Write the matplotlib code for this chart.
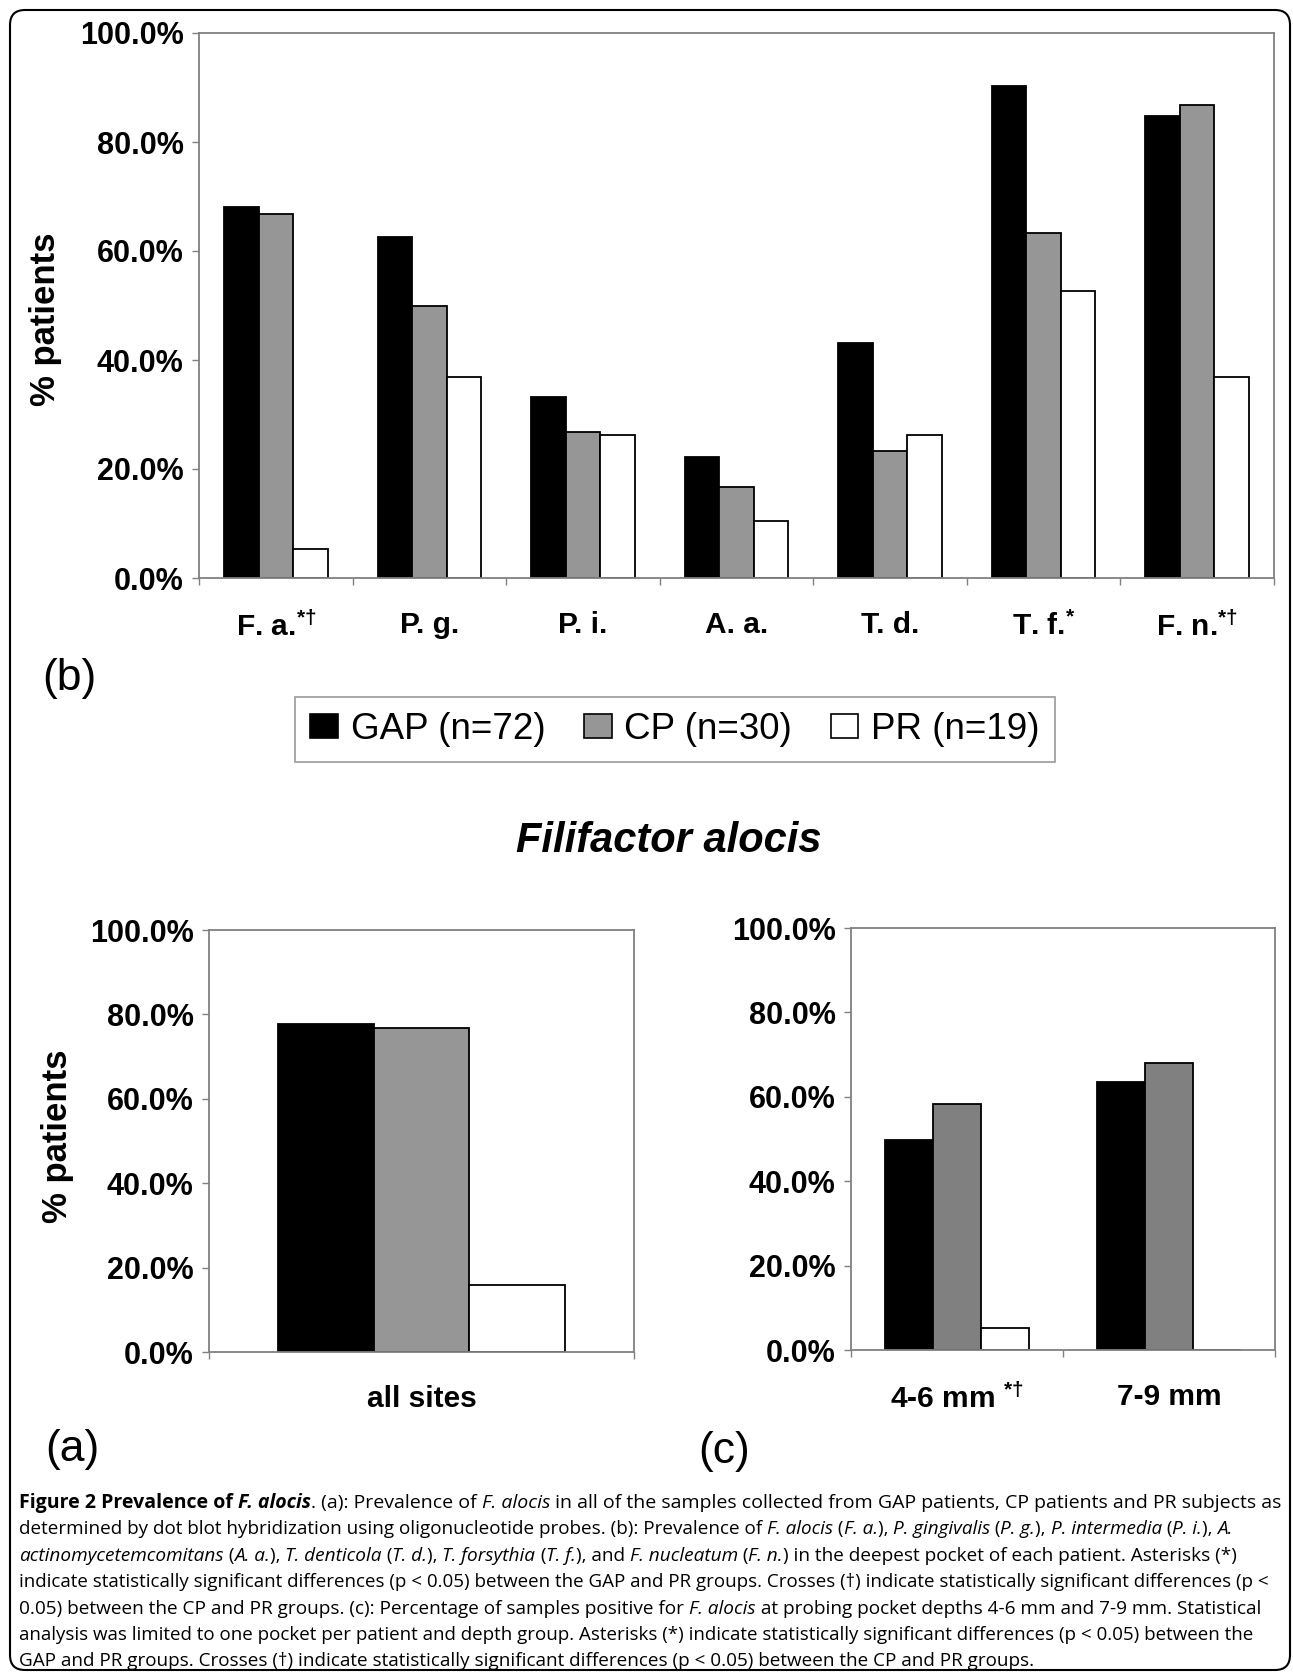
import numpy as np
import matplotlib
matplotlib.use("Agg")
import matplotlib.pyplot as plt
from matplotlib.patches import Rectangle, FancyBboxPatch
from matplotlib.ticker import FuncFormatter

W, H = 1293, 1677

## données

# (b) bactéries, poche la plus profonde
bact = ["F. a.$^{*\u2020}$", "P. g.", "P. i.", "A. a.", "T. d.", "T. f.$^{*}$", "F. n.$^{*\u2020}$"]
gap_b = [68.1, 62.5, 33.3, 22.2, 43.1, 90.3, 84.7]
cp_b = [66.7, 50.0, 26.7, 16.7, 23.3, 63.3, 86.7]
pr_b = [5.3, 36.8, 26.3, 10.5, 26.3, 52.6, 36.8]

# (a) tous les sites
sites = ["all sites"]
gap_a = [77.8]
cp_a = [76.7]
pr_a = [15.8]

# (c) profondeur de poche
depths = ["4-6 mm $^{*\u2020}$", "7-9 mm"]
gap_c = [49.7, 63.5]
cp_c = [58.2, 68.1]
pr_c = [5.3, 0.0]

groups = ["GAP (n=72)", "CP (n=30)", "PR (n=19)"]

plt.rcParams['font.family'] = ['Liberation Sans', 'DejaVu Sans']
plt.rcParams['mathtext.fontset'] = 'custom'
plt.rcParams['mathtext.rm'] = 'Liberation Sans:bold'
plt.rcParams['mathtext.it'] = 'Liberation Sans:bold:italic'
plt.rcParams['mathtext.bf'] = 'Liberation Sans:bold'
plt.rcParams['mathtext.default'] = 'rm'

fig = plt.figure(figsize=(W / 100, H / 100), dpi=100)

def rect(l, t, r, b):
    return [l / W, 1 - b / H, (r - l) / W, (b - t) / H]

def panel(box, cats, gap, cp, pr, cp_col):
    ax = fig.add_axes(box)
    x = np.arange(len(cats))
    w = 0.225
    for off, vals, col in [(-w, gap, 'black'), (0, cp, cp_col), (w, pr, 'white')]:
        ax.bar(x + off, vals, w, color=col, edgecolor='black', linewidth=1.3)
    ax.set_xlim(-0.5, len(cats) - 0.5)
    ax.set_ylim(0, 100)
    ax.set_yticks(np.arange(0, 101, 20))
    ax.yaxis.set_major_formatter(FuncFormatter(lambda v, p: "%.1f%%" % v))
    ax.set_xticks(np.arange(len(cats) + 1) - 0.5)
    ax.set_xticklabels([])
    ax.set_xticks(x, minor=True)
    ax.set_xticklabels(cats, minor=True)
    ax.tick_params(axis='x', which='minor', length=0, pad=24, labelsize=21.5)
    ax.tick_params(axis='x', which='major', length=5, width=1, color='#808080')
    ax.tick_params(axis='y', length=5, width=1, color='#808080', pad=6, labelsize=22)
    for lab in ax.get_xticklabels(minor=True) + ax.get_yticklabels():
        lab.set_fontweight('bold')
    for s in ax.spines.values():
        s.set_color('#808080')
        s.set_linewidth(1.3)
    return ax

panel(rect(199, 33, 1274, 578), bact, gap_b, cp_b, pr_b, '#969696')
panel(rect(209, 930, 634, 1352), sites, gap_a, cp_a, pr_a, '#969696')
panel(rect(851, 928, 1275, 1350), depths, gap_c, cp_c, pr_c, '#808080')

# étiquettes
def ftext(x, y, s, **kw):
    fig.text(x / W, 1 - y / H, s, ha='center', va='center', **kw)

ftext(45, 319, "% patients", rotation=90, fontsize=25, fontweight='bold')
ftext(57, 1136, "% patients", rotation=90, fontsize=25, fontweight='bold')
ftext(69, 679, "(b)", fontsize=32)
ftext(72, 1449, "(a)", fontsize=32)
ftext(724, 1452, "(c)", fontsize=32)
ftext(669, 841, "Filifactor alocis", fontsize=30, fontweight='bold', fontstyle='italic')

# légende
handles = [Rectangle((0, 0), 1, 1, facecolor=c, edgecolor='black', lw=1.2)
           for c in ['black', '#969696', 'white']]
leg = fig.legend(handles, groups, loc='center', bbox_to_anchor=(675 / W, 1 - 729.5 / H),
                 ncol=3, frameon=True, fancybox=False, edgecolor='#808080',
                 prop={'family': 'Liberation Sans', 'size': 26.5},
                 handlelength=0.75, handleheight=0.65, handletextpad=0.35,
                 columnspacing=1.05, borderpad=0.4)
leg.get_frame().set_linewidth(1.2)

# cadre arrondi
frame = FancyBboxPatch((0.10, 0.07), 12.80, 16.60, boxstyle="round,pad=0,rounding_size=0.15",
                       transform=fig.dpi_scale_trans, facecolor='none', edgecolor='black', lw=1.5)
fig.patches.append(frame)

## légende de la figure
CAP = ['Open Sans', 'DejaVu Sans']
caption = [
    [("Figure 2 Prevalence of ", 'b'), ("F. alocis", 'bi'), (". (a): Prevalence of ", 'r'), ("F. alocis", 'i'),
     (" in all of the samples collected from GAP patients, CP patients and PR subjects as", 'r')],
    [("determined by dot blot hybridization using oligonucleotide probes. (b): Prevalence of ", 'r'), ("F. alocis", 'i'),
     (" (", 'r'), ("F. a.", 'i'), ("), ", 'r'), ("P. gingivalis", 'i'), (" (", 'r'), ("P. g.", 'i'), ("), ", 'r'),
     ("P. intermedia", 'i'), (" (", 'r'), ("P. i.", 'i'), ("), ", 'r'), ("A.", 'i')],
    [("actinomycetemcomitans", 'i'), (" (", 'r'), ("A. a.", 'i'), ("), ", 'r'), ("T. denticola", 'i'), (" (", 'r'),
     ("T. d.", 'i'), ("), ", 'r'), ("T. forsythia", 'i'), (" (", 'r'), ("T. f.", 'i'), ("), and ", 'r'),
     ("F. nucleatum", 'i'), (" (", 'r'), ("F. n.", 'i'), (") in the deepest pocket of each patient. Asterisks (*)", 'r')],
    [("indicate statistically significant differences (p < 0.05) between the GAP and PR groups. Crosses (\u2020) indicate statistically significant differences (p <", 'r')],
    [("0.05) between the CP and PR groups. (c): Percentage of samples positive for ", 'r'), ("F. alocis", 'i'),
     (" at probing pocket depths 4-6 mm and 7-9 mm. Statistical", 'r')],
    [("analysis was limited to one pocket per patient and depth group. Asterisks (*) indicate statistically significant differences (p < 0.05) between the", 'r')],
    [("GAP and PR groups. Crosses (\u2020) indicate statistically significant differences (p < 0.05) between the CP and PR groups.", 'r')],
]
# fin de ligne mesurée sur l'image (pixels)
line_end = [1280, 1237, 1237, 1274, 1261, 1260, 1033]

renderer = fig.canvas.get_renderer()

def style(st, size):
    return dict(family=CAP, size=size, weight='bold' if 'b' in st else 'normal',
                style='italic' if 'i' in st else 'normal')

def advance(txt, st, size):
    t1 = fig.text(0, 0, txt + 'x', **style(st, size))
    t2 = fig.text(0, 0, 'x', **style(st, size))
    w = t1.get_window_extent(renderer).width - t2.get_window_extent(renderer).width
    t1.remove()
    t2.remove()
    return w

x0 = 19
for i, line in enumerate(caption):
    w10 = sum(advance(t, s, 10) for t, s in line)
    size = 10 * (line_end[i] - x0) / w10
    x = x0
    y = 1508 + i * 26.4
    for txt, st in line:
        fig.text(x / W, 1 - y / H, txt, ha='left', va='baseline', **style(st, size))
        x += advance(txt, st, size)

fig.savefig("out.png", dpi=100)
print("Done")
